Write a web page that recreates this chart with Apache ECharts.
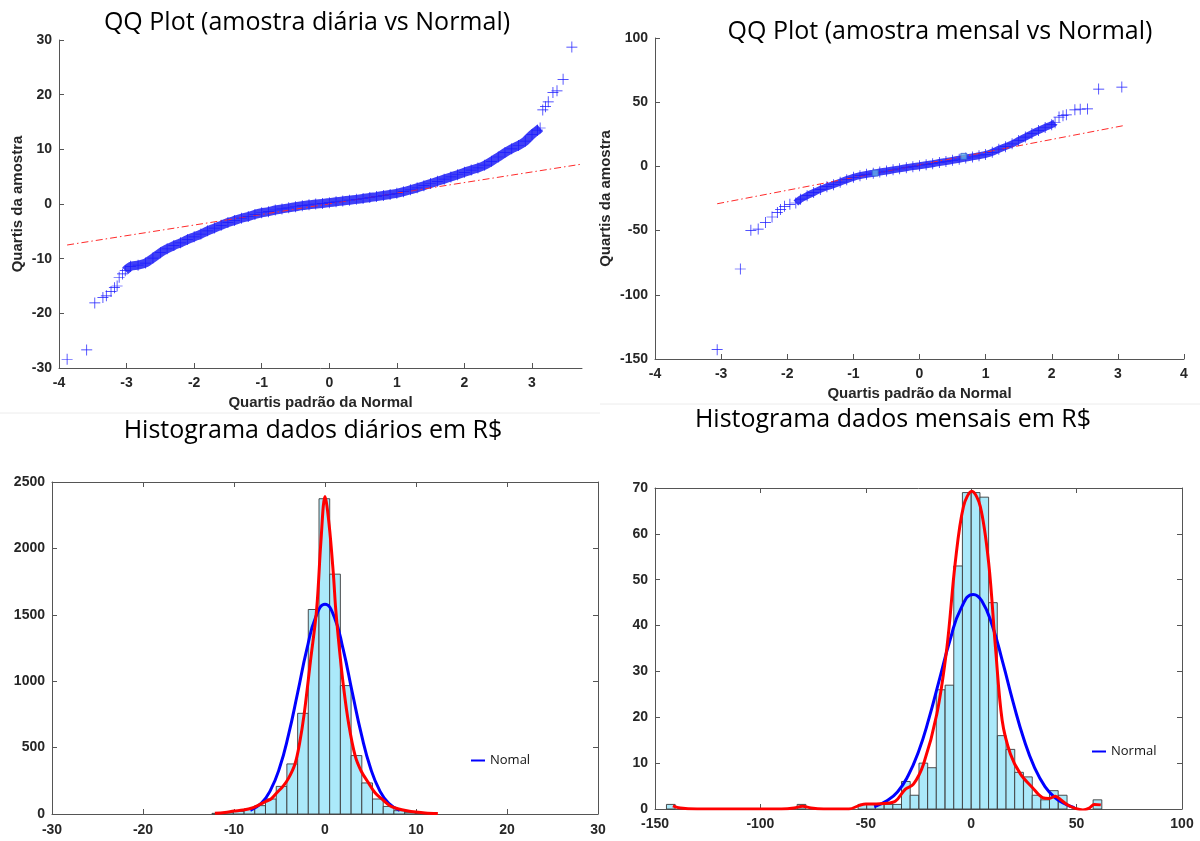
<!DOCTYPE html>
<html>
<head>
<meta charset="utf-8">
<script src="https://cdn.jsdelivr.net/npm/echarts@6/dist/echarts.min.js"></script>
<style>
  html, body { margin: 0; padding: 0; background: #fff; }
  #main { width: 1200px; height: 841px; }
</style>
</head>
<body>
<div id="main"></div>
<script>
// ---- QQ diario (amostra diaria vs Normal) ----
var qqDailyBand = [[-3.02, -12.2], [-2.94, -11.4], [-2.83, -11.2], [-2.72, -10.8], [-2.61, -9.9], [-2.5, -8.9],
  [-2.4, -8.2], [-2.3, -7.6], [-2.2, -7.1], [-2.1, -6.5], [-2.0, -6.0], [-1.9, -5.5], [-1.8, -4.9], [-1.7, -4.4],
  [-1.6, -3.9], [-1.5, -3.4], [-1.4, -3.0], [-1.3, -2.6], [-1.2, -2.3], [-1.1, -1.9], [-1.0, -1.6], [-0.9, -1.4],
  [-0.8, -1.1], [-0.7, -0.9], [-0.6, -0.7], [-0.5, -0.5], [-0.4, -0.3], [-0.3, -0.15], [-0.2, 0.0], [-0.1, 0.1],
  [0, 0.25], [0.1, 0.4], [0.2, 0.55], [0.3, 0.7], [0.4, 0.85], [0.5, 1.0], [0.6, 1.2], [0.7, 1.35], [0.8, 1.55],
  [0.9, 1.75], [1.0, 1.95], [1.1, 2.25], [1.2, 2.6], [1.3, 2.95], [1.4, 3.35], [1.5, 3.75], [1.6, 4.15], [1.7, 4.55],
  [1.8, 4.95], [1.9, 5.35], [2.0, 5.8], [2.1, 6.2], [2.2, 6.6], [2.3, 7.1], [2.4, 7.8], [2.5, 8.6], [2.6, 9.4],
  [2.7, 10.1], [2.8, 10.7], [2.9, 11.5], [3.0, 12.7], [3.08, 13.5], [3.12, 13.9]]
var qqDailyTails = [[-3.88, -28.4], [-3.59, -26.7], [-3.47, -18.1], [-3.35, -17.1], [-3.3, -16.8], [-3.23, -16.0],
  [-3.18, -15.3], [-3.14, -15.0], [-3.11, -13.4], [-3.06, -12.8], [3.16, 17.2], [3.2, 17.8], [3.24, 18.7],
  [3.31, 20.4], [3.37, 20.7], [3.46, 22.8], [3.59, 28.7]]
var qqDailyRef = [[-3.88, -7.5], [3.74, 7.3]]

// ---- QQ mensal (amostra mensal vs Normal) ----
var qqMonthlyBand = [[-1.87, -28.5], [-1.8, -25.5], [-1.7, -22.8], [-1.6, -20.3], [-1.5, -17.9], [-1.4, -15.8],
  [-1.3, -14.2], [-1.2, -12.3], [-1.1, -10.3], [-1.0, -8.5], [-0.9, -7.2], [-0.8, -6.2], [-0.7, -5.3], [-0.6, -4.4],
  [-0.5, -3.6], [-0.4, -2.7], [-0.3, -1.9], [-0.2, -1.0], [-0.1, -0.2], [0, 0.5], [0.1, 1.3], [0.2, 2.1], [0.3, 3.0],
  [0.4, 3.8], [0.5, 4.7], [0.6, 5.6], [0.7, 6.5], [0.8, 7.4], [0.9, 8.3], [1.0, 9.3], [1.1, 11.0], [1.2, 13.4],
  [1.3, 15.4], [1.4, 17.6], [1.5, 20.2], [1.6, 22.8], [1.7, 25.6], [1.8, 28.0], [1.9, 30.3], [2.0, 32.5], [2.05, 34.0]]
var qqMonthlyTails = [[-3.06, -142.7], [-2.71, -79.9], [-2.55, -49.8], [-2.44, -48.8], [-2.33, -43.6], [-2.23, -39.4],
  [-2.15, -36.0], [-2.1, -33.5], [-2.04, -31.1], [-1.96, -29.5], [2.11, 38.4], [2.17, 39.5], [2.22, 40.2],
  [2.35, 44.1], [2.43, 44.6], [2.54, 44.8], [2.71, 60.2], [3.06, 61.8]]
var qqMonthlyQuartis = [[-0.67, -5.2], [0.67, 7.8]]
var qqMonthlyRef = [[-3.06, -29.1], [3.08, 31.7]]

// ---- Histograma diario ----
var dailyBinWidth = 1.176
var dailyBinCenters = [-11.83, -10.66, -9.48, -8.30, -7.13, -5.95, -4.77, -3.60, -2.42, -1.25, -0.07,
  1.10, 2.28, 3.46, 4.63, 5.81, 6.99, 8.16, 9.34, 10.51, 11.69]
var dailyCounts = [5, 10, 20, 38, 63, 113, 208, 377, 758, 1540, 2374, 1806, 967, 440, 234, 113, 57, 25, 10, 5, 2]
var dailyNormal = [[-8.2, 28], [-7, 81], [-6, 178], [-5, 346], [-4, 599], [-3, 915], [-2, 1239], [-1, 1487],
  [0, 1580], [1, 1487], [2, 1239], [3, 915], [4, 599], [5, 346], [6, 178], [7, 81], [8.2, 28]]
var dailyKernel = [[-12.1, 5], [-11, 12], [-10, 22], [-9, 30], [-8, 45], [-7.2, 70], [-6.5, 95], [-5.9, 115],
  [-5.3, 160], [-4.6, 210], [-4.0, 270], [-3.3, 377], [-2.8, 530], [-2.28, 758], [-1.6, 1150], [-0.92, 1540],
  [-0.45, 2050], [0, 2390], [0.45, 2180], [0.92, 1806], [1.18, 1540], [1.6, 1230], [2.02, 967], [2.6, 680],
  [3.31, 440], [4.0, 320], [4.78, 234], [5.5, 160], [6.25, 113], [7.17, 60], [8.0, 40], [9.0, 25], [10, 15],
  [11, 8], [12.4, 3]]

// ---- Histograma mensal ----
var monthlyBinWidth = 4.13
var monthlyBinCenters = [-142.5, -80.5, -51.6, -47.5, -43.4, -39.2, -35.1, -31.0, -26.9, -22.7, -18.6, -14.5,
  -10.3, -6.2, -2.1, 2.1, 6.2, 10.3, 14.5, 18.6, 22.7, 26.9, 31.0, 35.1, 39.2, 43.4, 59.9]
var monthlyCounts = [1, 1, 1, 1, 1, 1, 1, 6, 3, 10, 9, 26, 27, 53, 69, 69, 68, 45, 16, 13, 8, 7, 3, 2, 4, 3, 2]
var monthlyNormal = [[-46, 0.5], [-40, 1.8], [-35, 3.7], [-30, 7.2], [-25, 12.5], [-20, 19.8], [-15, 28.4],
  [-10, 36.9], [-5, 43.6], [1, 46.8], [5, 45.4], [10, 40], [15, 31.9], [20, 23.1], [25, 15.2], [30, 9.1],
  [35, 4.9], [40, 2.4], [45, 1.0], [49, 0.3]]
var monthlyKernel = [[-141.5, 0.7], [-138, 0.2], [-130, 0], [-90, 0], [-84, 0.2], [-80, 0.6], [-76, 0.2], [-70, 0],
  [-58, 0], [-53, 0.8], [-50, 1.1], [-45, 1.1], [-41.6, 1.2], [-36, 1.7], [-31.3, 4.3], [-27.4, 5.4], [-22.6, 9.8],
  [-16.3, 20.7], [-11.5, 35.3], [-7.6, 53.6], [-3.65, 66], [0.3, 69.3], [4.3, 66], [8.3, 53.6], [11.5, 35.3],
  [14.7, 19.3], [18.6, 12], [23.4, 7.6], [29, 4.7], [33.8, 2.5], [37, 2.3], [40, 2.8], [42.5, 2.0], [46, 0.8],
  [49, 0.2], [53, -0.2], [56, 0.2], [58.4, 1.0], [61.5, 0.9]]

// tick labels
var qqDailyXTicks = [-4, -3, -2, -1, 0, 1, 2, 3]

var tickFont = { fontFamily: 'Liberation Sans', fontWeight: 'bold', fontSize: 14, color: '#262626' }
var nameFont = { fontFamily: 'Liberation Sans', fontWeight: 'bold', fontSize: 15, color: '#262626' }
var crossPath = 'path://M-0.065,-1L0.065,-1L0.065,-0.065L1,-0.065L1,0.065L0.065,0.065L0.065,1L-0.065,1L-0.065,0.065L-1,0.065L-1,-0.065L-0.065,-0.065Z'

function pairsFrom(centers, counts) {
  return centers.map(function (c, i) { return [c, counts[i]] })
}

function plainNumber(v) {
  return String(v)
}

function axis(gridIndex, min, max, interval, opt) {
  var a = {
    type: 'value', gridIndex: gridIndex, min: min, max: max, interval: interval,
    axisLine: { show: true, onZero: false, lineStyle: { color: '#555', width: 1 } },
    axisTick: { show: true, inside: true, length: 5, lineStyle: { color: '#555' } },
    axisLabel: Object.assign({ margin: 8, formatter: plainNumber }, tickFont),
    splitLine: { show: false }
  }
  return Object.assign(a, opt || {})
}

function hiddenSide(gridIndex, min, max, interval, position) {
  return axis(gridIndex, min, max, interval, {
    position: position,
    axisLabel: { show: false }
  })
}

function histBars(width) {
  return function (params, api) {
    var c = api.value(0)
    var p0 = api.coord([c - width / 2, api.value(1)])
    var p1 = api.coord([c + width / 2, 0])
    return {
      type: 'rect',
      shape: { x: p0[0], y: p0[1], width: p1[0] - p0[0], height: p1[1] - p0[1] },
      style: { fill: '#abe9fa', stroke: '#3a3a3a', lineWidth: 0.9 }
    }
  }
}

function titleText(x, y, text) {
  return {
    type: 'text', x: x, y: y, silent: true,
    style: { text: text, font: '25px "Open Sans"', fill: '#000', align: 'center', verticalAlign: 'middle',
      textAlign: 'center', textVerticalAlign: 'middle' }
  }
}

var chart = echarts.init(document.getElementById('main'), null, { renderer: 'canvas' })

var option = {
  animation: false,
  backgroundColor: '#fff',
  grid: [
    { left: 59, top: 40, width: 523, height: 328 },
    { left: 655, top: 38, width: 529, height: 321 },
    { left: 52, top: 482, width: 546, height: 332 },
    { left: 655, top: 488, width: 527, height: 321 }
  ],
  xAxis: [
    axis(0, -4, 3.74, 1, {
      axisTick: { show: true, inside: true, length: 5, customValues: qqDailyXTicks, lineStyle: { color: '#555' } },
      axisLabel: Object.assign({ margin: 8, customValues: qqDailyXTicks, formatter: plainNumber }, tickFont),
      name: 'Quartis padrão da Normal', nameLocation: 'middle', nameGap: 27, nameTextStyle: nameFont
    }),
    axis(1, -4, 4, 1, {
      name: 'Quartis padrão da Normal', nameLocation: 'middle', nameGap: 27, nameTextStyle: nameFont
    }),
    axis(2, -30, 30, 10, { axisLabel: Object.assign({ margin: 9, formatter: plainNumber }, tickFont) }),
    axis(3, -150, 100, 50),
    hiddenSide(2, -30, 30, 10, 'top'),
    hiddenSide(3, -150, 100, 50, 'top')
  ],
  yAxis: [
    axis(0, -30, 30, 10, {
      axisLabel: Object.assign({ margin: 7, formatter: plainNumber }, tickFont),
      name: 'Quartis da amostra', nameLocation: 'middle', nameGap: 34, nameTextStyle: nameFont
    }),
    axis(1, -150, 100, 50, {
      axisLabel: Object.assign({ margin: 7, formatter: plainNumber }, tickFont),
      name: 'Quartis da amostra', nameLocation: 'middle', nameGap: 42, nameTextStyle: nameFont
    }),
    axis(2, 0, 2500, 500, { axisLabel: Object.assign({ margin: 7, formatter: plainNumber }, tickFont) }),
    axis(3, 0, 70, 10, { axisLabel: Object.assign({ margin: 7, formatter: plainNumber }, tickFont) }),
    hiddenSide(2, 0, 2500, 500, 'right'),
    hiddenSide(3, 0, 70, 10, 'right')
  ],
  legend: [
    {
      data: ['Nomal'], left: 466, top: 749, itemWidth: 14, itemHeight: 2, icon: 'rect',
      textStyle: { fontFamily: 'Open Sans', fontSize: 13, color: '#111' }
    },
    {
      data: ['Normal'], left: 1087, top: 740, itemWidth: 14, itemHeight: 2, icon: 'rect',
      textStyle: { fontFamily: 'Open Sans', fontSize: 13, color: '#111' }
    }
  ],
  graphic: [
    titleText(307, 23, 'QQ Plot (amostra diária vs Normal)'),
    titleText(940, 32, 'QQ Plot (amostra mensal vs Normal)'),
    titleText(313, 431, 'Histograma dados diários em R$'),
    titleText(893, 420, 'Histograma dados mensais em R$'),
    { type: 'line', shape: { x1: 0, y1: 413, x2: 600, y2: 413 }, style: { stroke: '#ececec', lineWidth: 1 } },
    { type: 'line', shape: { x1: 600, y1: 404, x2: 1200, y2: 404 }, style: { stroke: '#ececec', lineWidth: 1 } }
  ],
  series: [
    // QQ diario
    {
      type: 'line', xAxisIndex: 0, yAxisIndex: 0, data: qqDailyRef, symbol: 'none', silent: true,
      lineStyle: { color: '#ff2a2a', width: 1, type: [7, 3, 1.5, 3] }, z: 3
    },
    {
      type: 'line', xAxisIndex: 0, yAxisIndex: 0, data: qqDailyBand, symbol: 'none', smooth: 0.2,
      lineStyle: { color: '#4040f6', width: 9 }, z: 2
    },
    {
      type: 'scatter', xAxisIndex: 0, yAxisIndex: 0, data: qqDailyBand.concat(qqDailyTails),
      symbol: crossPath, symbolSize: 11, itemStyle: { color: '#1a1aff', opacity: 1 }, z: 4
    },
    // QQ mensal
    {
      type: 'line', xAxisIndex: 1, yAxisIndex: 1, data: qqMonthlyRef, symbol: 'none', silent: true,
      lineStyle: { color: '#ff2a2a', width: 1, type: [7, 3, 1.5, 3] }, z: 3
    },
    {
      type: 'line', xAxisIndex: 1, yAxisIndex: 1, data: qqMonthlyBand, symbol: 'none', smooth: 0.2,
      lineStyle: { color: '#4040f6', width: 7 }, z: 2
    },
    {
      type: 'scatter', xAxisIndex: 1, yAxisIndex: 1, data: qqMonthlyBand.concat(qqMonthlyTails),
      symbol: crossPath, symbolSize: 11, itemStyle: { color: '#1a1aff', opacity: 1 }, z: 4
    },
    {
      type: 'scatter', xAxisIndex: 1, yAxisIndex: 1, data: qqMonthlyQuartis, symbol: 'rect', symbolSize: 6,
      itemStyle: { color: '#5fb0e8', borderColor: '#3a5fd0', borderWidth: 1 }, z: 5
    },
    // Histograma diario
    {
      type: 'custom', xAxisIndex: 2, yAxisIndex: 2, data: pairsFrom(dailyBinCenters, dailyCounts),
      renderItem: histBars(dailyBinWidth), z: 2
    },
    {
      name: 'Nomal', type: 'line', xAxisIndex: 2, yAxisIndex: 2, data: dailyNormal, symbol: 'none', smooth: true,
      lineStyle: { color: '#0000ff', width: 3 }, itemStyle: { color: '#0000ff' }, z: 3
    },
    {
      type: 'line', xAxisIndex: 2, yAxisIndex: 2, data: dailyKernel, symbol: 'none', smooth: 0.35,
      lineStyle: { color: '#ff0000', width: 3 }, z: 4
    },
    // Histograma mensal
    {
      type: 'custom', xAxisIndex: 3, yAxisIndex: 3, data: pairsFrom(monthlyBinCenters, monthlyCounts),
      renderItem: histBars(monthlyBinWidth), z: 2
    },
    {
      name: 'Normal', type: 'line', xAxisIndex: 3, yAxisIndex: 3, data: monthlyNormal, symbol: 'none', smooth: true,
      lineStyle: { color: '#0000ff', width: 3 }, itemStyle: { color: '#0000ff' }, z: 3
    },
    {
      type: 'line', xAxisIndex: 3, yAxisIndex: 3, data: monthlyKernel, symbol: 'none', smooth: 0.35,
      lineStyle: { color: '#ff0000', width: 3 }, z: 4
    }
  ]
}

chart.setOption(option)
</script>
</body>
</html>
